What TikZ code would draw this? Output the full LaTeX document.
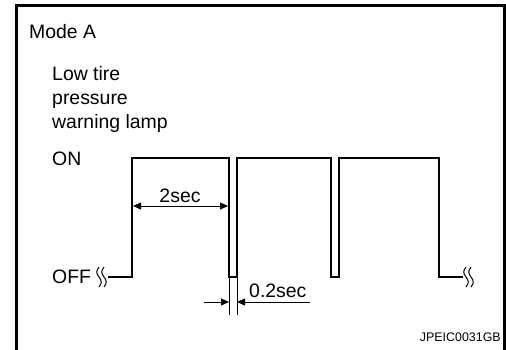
\documentclass[tikz,border=0pt]{standalone}
\usepackage{fontspec}
\setmainfont{Liberation Sans}
\usetikzlibrary{arrows.meta}

\tikzset{
  >={Triangle[length=8bp,width=7bp]},
  frame/.style={line width=3bp},
  wave/.style={line width=2.6bp,line join=miter},
  dim/.style={line width=0.9bp},
  lbl/.style={inner sep=0,anchor=base west,font=\fontsize{19.5}{24}\selectfont},
  tag/.style={inner sep=0,anchor=base east,font=\fontsize{12.5}{14}\selectfont},
  cut/.pic={
    \draw[line width=1bp](-2.5,-10)..controls(-5.5,-6)and(-5.5,-4)..(-2.5,0)..controls(0.5,4)and(0.5,6)..(-2.5,10);
    \draw[line width=1bp](2.5,-10)..controls(-0.5,-6)and(-0.5,-4)..(2.5,0)..controls(5.5,4)and(5.5,6)..(2.5,10);
  }
}

\begin{document}
\begin{tikzpicture}[x=1bp,y=-1bp]
                \useasboundingbox(0,0)rectangle(506,349);
                \draw[frame](16,352)--(16,5.5)--(504,5.5)--(504,352);
                % texts
                \node[lbl](mode)at(29,38){Mode A};
                \node[lbl](lamp1)at(52,80){Low tire};
                \node[lbl](lamp2)at(52,104){pressure};
                \node[lbl](lamp3)at(52,128){warning lamp};
                \node[lbl](on)at(52,165){ON};
                \node[lbl](off)at(52,283){OFF};
                \node[tag](code)at(501,341){JPEIC0031GB};
                % signal
                \coordinate(S)at(108,277);
                \coordinate(R1)at(132,158);
                \coordinate(F1)at(229,277);
                \coordinate(R2)at(237,158);
                \coordinate(F2)at(331,277);
                \coordinate(R3)at(339,158);
                \coordinate(F3)at(439,277);
                \coordinate(E)at(463,277);
                \draw[wave](S)-|(R1)-|(F1)-|(R2)-|(F2)-|(R3)-|(F3)--(E);
                \pic at(101.5,277){cut};
                \pic at(468.5,277){cut};
                % 2sec
                \coordinate(A1)at(133,206);
                \coordinate(A2)at(228,206);
                \draw[dim,<->](A1)--(A2);
                \node[lbl,anchor=base](t2)at(180,202){2sec};
                % 0.2sec
                \coordinate(G1)at(229,315);
                \coordinate(G2)at(237,315);
                \draw[dim](F1)--(G1);
                \draw[dim](F1-|G2)--(G2);
                \coordinate(B1)at(229,302);
                \coordinate(B2)at(237,302);
                \draw[dim,->](204,302)--(B1);
                \draw[dim,->](310,302)--(B2);
                \node[lbl](t02)at(249,297){0.2sec};
            \end{tikzpicture}
\end{document}
